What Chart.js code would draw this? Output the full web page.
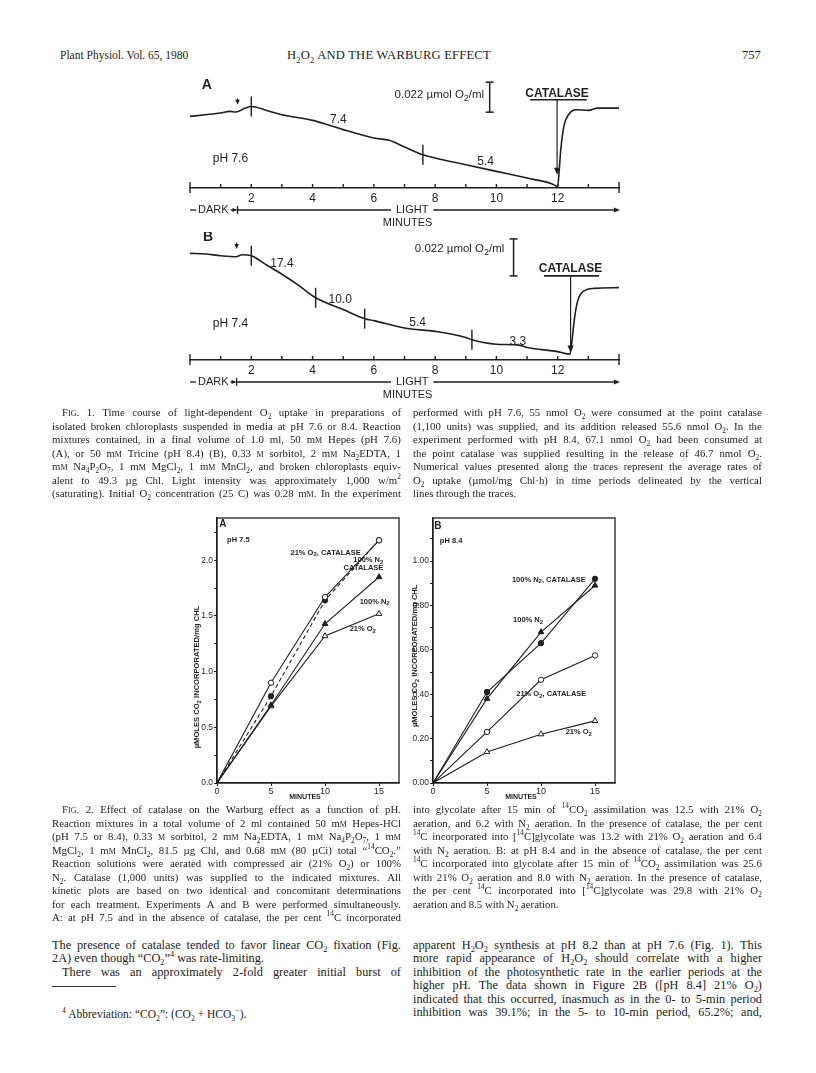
<!DOCTYPE html>
<html>
<head>
<meta charset="utf-8">
<title>H2O2 and the Warburg effect</title>
<script src="https://cdn.jsdelivr.net/npm/chart.js@4.4.1/dist/chart.umd.min.js"></script>
<style>
  body { margin: 0; background: #fff; }
  #page { position: relative; width: 816px; height: 1073px; overflow: hidden; background: #fff; color: #1c1c1c;
          font-family: "Liberation Serif", "DejaVu Serif", serif; }
  canvas { position: absolute; }
  .txt { position: absolute; white-space: nowrap; }
  .col { position: absolute; }
  .col > div { white-space: nowrap; }
  .just { display: flex; justify-content: space-between; }
  .just span { white-space: nowrap; }
  k { font-variant: small-caps; }
  sub, sup { font-size: 0.68em; line-height: 0; }
</style>
</head>
<body>
<div id="page">
  <div class="txt" style="left:60px;top:49px;font-size:11.5px">Plant Physiol. Vol. 65, 1980</div>
  <div class="txt" style="left:287px;top:48px;font-size:12.6px;letter-spacing:0.2px">H<sub>2</sub>O<sub>2</sub> AND THE WARBURG EFFECT</div>
  <div class="txt" style="left:742px;top:48px;font-size:12.6px">757</div>

  <canvas id="fig1a" width="520" height="162" style="left:150px;top:70px"></canvas>
  <canvas id="fig1b" width="520" height="175" style="left:150px;top:232px"></canvas>
  <canvas id="fig2a" width="240" height="305" style="left:170px;top:505px"></canvas>
  <canvas id="fig2b" width="240" height="305" style="left:386px;top:505px"></canvas>

  <div style="position:absolute;left:52px;top:986px;width:64px;border-top:1px solid #333"></div>
</div>

<script>
// ---------- Fig. 1: O2 traces (relative O2 level, umol O2/ml above the baseline) ----------
const minutesA = [0, 0.5, 1, 1.3, 1.5, 1.8, 2, 2.5, 3, 4, 4.5, 5, 6, 6.5, 7, 7.6, 8, 9, 10, 11, 11.8, 12,
                  12.05, 12.1, 12.2, 12.35, 12.6, 13, 13.3, 14];
const o2A = [0.0525, 0.0537, 0.0550, 0.0562, 0.0557, 0.0586, 0.0598, 0.0569, 0.0537, 0.0496, 0.0464, 0.0428,
             0.0367, 0.0350, 0.0301, 0.0244, 0.0220, 0.0171, 0.0122, 0.0073, 0.0032, 0.0012,
             0.0134, 0.0281, 0.0452, 0.0537, 0.0574, 0.0569, 0.0586, 0.0586];
const marksA = [2, 7.6];
const ratesA = ['7.4', '5.4'];

const minutesB = [0, 0.5, 1, 1.5, 1.7, 2, 2.5, 3, 3.5, 4.1, 5, 5.7, 6, 7, 8, 9, 9.2, 10, 10.7, 11, 12, 12.4,
                  12.45, 12.55, 12.65, 12.85, 13.2, 14];
const o2B = [0.0634, 0.0630, 0.0620, 0.0614, 0.0626, 0.0620, 0.0565, 0.0510, 0.0450, 0.0370, 0.0300, 0.0246,
             0.0234, 0.0190, 0.0170, 0.0134, 0.0120, 0.0094, 0.0090, 0.0074, 0.0050, 0.0034,
             0.0090, 0.0250, 0.0350, 0.0410, 0.0426, 0.0430];
const marksB = [2, 4.1, 5.7, 9.2];
const ratesB = ['17.4', '10.0', '5.4', '3.3'];

const traceTicks = [0, 1, 2, 3, 4, 5, 6, 7, 8, 9, 10, 11, 12, 13, 14];
const traceTickLabels = ['', '', '2', '', '4', '', '6', '', '8', '', '10', '', '12', '', ''];

// ---------- Fig. 2: umoles CO2 incorporated / mg Chl ----------
const minutes2 = [0, 5, 10, 15];
const aO2Catalase = [0, 0.90, 1.67, 2.18];
const aN2Catalase = [0, 0.78, 1.64, 2.18];
const aN2 = [0, 0.70, 1.43, 1.85];
const aO2 = [0, 0.69, 1.32, 1.52];

const bO2Catalase = [0, 0.23, 0.465, 0.575];
const bN2Catalase = [0, 0.41, 0.63, 0.92];
const bN2 = [0, 0.38, 0.68, 0.89];
const bO2 = [0, 0.14, 0.22, 0.28];

const xTicks2 = [0, 5, 10, 15];
const yTicksA = [0, 0.25, 0.5, 0.75, 1, 1.25, 1.5, 1.75, 2, 2.25];
const yLabelsA = ['0.0', '', '0.5', '', '1.0', '', '1.5', '', '2.0', ''];
const yTicksB = [0, 0.1, 0.2, 0.3, 0.4, 0.5, 0.6, 0.7, 0.8, 0.9, 1.0, 1.1];
const yLabelsB = ['0.00', '', '0.20', '', '0.40', '', '0.60', '', '0.80', '', '1.00', ''];

const INK = '#1f1f1f';
const SANS = '"Liberation Sans", "DejaVu Sans", sans-serif';
Chart.defaults.color = INK;

function seg(ctx, x1, y1, x2, y2) {
  ctx.beginPath(); ctx.moveTo(x1, y1); ctx.lineTo(x2, y2); ctx.stroke();
}
function head(ctx, x, y, dir, s) {
  ctx.beginPath();
  if (dir === 'down') { ctx.moveTo(x, y); ctx.lineTo(x - s * 0.45, y - s); ctx.lineTo(x + s * 0.45, y - s); }
  else { ctx.moveTo(x, y); ctx.lineTo(x - s, y - s * 0.4); ctx.lineTo(x - s, y + s * 0.4); }
  ctx.closePath(); ctx.fill();
}
// text with subscripts: parts = [[text, isSub], ...]
function subText(ctx, parts, x, y, align, size, weight) {
  const main = `${weight} ${size}px ${SANS}`, small = `${weight} ${Math.round(size * 0.75)}px ${SANS}`;
  let w = 0;
  parts.forEach(([s, sub]) => { ctx.font = sub ? small : main; w += ctx.measureText(s).width; });
  let cx = align === 'right' ? x - w : align === 'center' ? x - w / 2 : x;
  ctx.textAlign = 'left'; ctx.textBaseline = 'middle';
  parts.forEach(([s, sub]) => {
    ctx.font = sub ? small : main;
    ctx.fillText(s, cx, sub ? y + size * 0.3 : y);
    cx += ctx.measureText(s).width;
  });
}

function traceNotes(n) {
  return {
    id: 'traceNotes',
    afterDraw(chart) {
      const { ctx, chartArea: a } = chart;
      const xs = chart.scales.x, ys = chart.scales.y;
      const X = t => xs.getPixelForValue(t), Y = v => ys.getPixelForValue(v);
      const pts = chart.data.datasets[0].data;
      const level = t => {
        for (let i = 1; i < pts.length; i++) {
          if (pts[i].x >= t) {
            const p = pts[i - 1], q = pts[i];
            return p.y + (q.y - p.y) * (t - p.x) / (q.x - p.x);
          }
        }
        return pts[pts.length - 1].y;
      };
      ctx.save();
      ctx.strokeStyle = INK; ctx.fillStyle = INK; ctx.lineWidth = 1.4;

      // minute ticks on the time axis
      xs.ticks.forEach(tk => {
        const end = tk.value === xs.min || tk.value === xs.max;
        seg(ctx, X(tk.value), a.bottom - (end ? 6 : 4), X(tk.value), a.bottom + (end ? 5 : 0));
      });
      // vertical lines delimiting the rate periods
      n.marks.forEach(t => { const py = Y(level(t)); seg(ctx, X(t), py - 10, X(t), py + 10); });

      ctx.textAlign = 'center'; ctx.textBaseline = 'middle';
      ctx.font = `12px ${SANS}`;
      n.rates.forEach((r, i) => ctx.fillText(r, X(n.ratePos[i][0]), Y(n.ratePos[i][1])));
      ctx.fillText(n.ph[2], X(n.ph[0]), Y(n.ph[1]));
      ctx.font = `bold 14px ${SANS}`;
      ctx.fillText(n.letter[2], X(n.letter[0]), Y(n.letter[1]));

      // light-on arrow
      ctx.lineWidth = 1.2;
      seg(ctx, X(n.lightOn), Y(n.onArrow[0]), X(n.lightOn), Y(n.onArrow[1]) - 3);
      head(ctx, X(n.lightOn), Y(n.onArrow[1]), 'down', 5);

      // 0.022 umol O2/ml scale bar
      ctx.lineWidth = 1.5;
      const bx = X(n.bar[0]);
      seg(ctx, bx, Y(n.bar[1]), bx, Y(n.bar[2]));
      seg(ctx, bx - 4, Y(n.bar[1]), bx + 4, Y(n.bar[1]));
      seg(ctx, bx - 4, Y(n.bar[2]), bx + 4, Y(n.bar[2]));
      subText(ctx, [['0.022 \u00b5mol O', 0], ['2', 1], ['/ml', 0]], X(n.barLabel[0]), Y(n.barLabel[1]), 'right', 11.5, 'normal');

      // catalase addition
      const c = n.catalase;
      ctx.font = `600 12px ${SANS}`; ctx.textAlign = 'center';
      ctx.fillText('CATALASE', X(c.t), Y(c.v));
      ctx.lineWidth = 1.6;
      seg(ctx, X(c.from), Y(c.lineV), X(c.to), Y(c.lineV));
      ctx.lineWidth = 1.2;
      seg(ctx, X(c.t), Y(c.lineV), X(c.t), Y(c.arrowTo) - 4);
      head(ctx, X(c.t), Y(c.arrowTo), 'down', 7);

      // DARK / LIGHT bar and axis title
      const rowY = a.bottom + 22, x0 = X(0), xb = X(n.lightOn), xe = X(14);
      ctx.lineWidth = 1.3;
      ctx.font = `11px ${SANS}`; ctx.textAlign = 'left';
      seg(ctx, x0, rowY, x0 + 6, rowY);
      ctx.fillText('DARK', x0 + 8, rowY);
      const dEnd = x0 + 8 + ctx.measureText('DARK').width + 2;
      seg(ctx, dEnd, rowY, xb - 2, rowY);
      head(ctx, xb, rowY, 'right', 5);
      seg(ctx, xb, rowY - 4, xb, rowY + 4);
      const lx = X(n.lightT);
      ctx.textAlign = 'center';
      ctx.fillText('LIGHT', lx, rowY);
      const lw = ctx.measureText('LIGHT').width / 2 + 5;
      seg(ctx, xb, rowY, lx - lw, rowY);
      seg(ctx, lx + lw, rowY, xe - 3, rowY);
      head(ctx, xe + 1, rowY, 'right', 6);
      ctx.font = `11px ${SANS}`;
      ctx.fillText('MINUTES', X(n.minutesT), a.bottom + 35);
      ctx.restore();
    }
  };
}

function traceChart(id, minutes, o2, yMax, axisHeight, notes) {
  return new Chart(document.getElementById(id), {
    type: 'line',
    data: {
      datasets: [{
        data: minutes.map((m, i) => ({ x: m, y: o2[i] })),
        borderColor: INK, borderWidth: 1.6, pointRadius: 0, fill: false,
        cubicInterpolationMode: 'monotone'
      }]
    },
    options: {
      responsive: false, animation: false, events: [],
      layout: { padding: { left: 40, right: 51, top: 0, bottom: 0 } },
      plugins: { legend: { display: false }, tooltip: { enabled: false } },
      scales: {
        x: {
          type: 'linear', min: 0, max: 14,
          afterFit: s => { s.height = axisHeight; },
          afterBuildTicks: s => { s.ticks = traceTicks.map(v => ({ value: v })); },
          ticks: { autoSkip: false, maxRotation: 0, padding: 3, color: INK, font: { size: 12, family: SANS },
                   callback: (v, i) => traceTickLabels[i] },
          grid: { display: false, drawTicks: false, tickLength: 0 },
          border: { display: true, color: INK, width: 1.5 }
        },
        y: { display: false, min: 0, max: yMax }
      }
    },
    plugins: [traceNotes(notes)]
  });
}

traceChart('fig1a', minutesA, o2A, 0.08653, 44, {
  marks: marksA, rates: ratesA, ratePos: [[4.84, 0.050], [9.65, 0.0195]],
  ph: [1.32, 0.0212, 'pH 7.6'], letter: [0.55, 0.0757, 'A'],
  lightOn: 1.55, onArrow: [0.0656, 0.0610],
  bar: [9.78, 0.0556, 0.0776], barLabel: [9.6, 0.0683],
  catalase: { t: 11.98, v: 0.0695, lineV: 0.0647, from: 11.1, to: 12.95, arrowTo: 0.0098 },
  lightT: 7.25, minutesT: 7.1
});
traceChart('fig1b', minutesB, o2B, 0.0761, 47, {
  marks: marksB, rates: ratesB, ratePos: [[3.0, 0.057], [4.9, 0.036], [7.43, 0.022], [10.7, 0.011]],
  ph: [1.32, 0.0214, 'pH 7.4'], letter: [0.59, 0.073, 'B'],
  lightOn: 1.52, onArrow: [0.0698, 0.0660],
  bar: [10.56, 0.050, 0.072], barLabel: [10.26, 0.066],
  catalase: { t: 12.42, v: 0.054, lineV: 0.050, from: 11.55, to: 13.35, arrowTo: 0.0045 },
  lightT: 7.25, minutesT: 7.1
});

// ---------- Fig. 2 ----------
function series(values, style, filled, dashed) {
  return {
    data: minutes2.map((m, i) => ({ x: m, y: values[i] })),
    borderColor: INK, borderWidth: 1.1, borderDash: dashed ? [4, 3] : [],
    pointStyle: style,
    pointRadius: values.map((v, i) => (i === 0 ? 0 : style === 'triangle' ? 3.3 : 2.7)),
    pointBackgroundColor: filled ? INK : '#fff', pointBorderColor: INK, pointBorderWidth: 1,
    tension: 0, fill: false
  };
}

function panelNotes(n) {
  return {
    id: 'panelNotes',
    afterDraw(chart) {
      const { ctx, chartArea: a } = chart;
      const X = t => chart.scales.x.getPixelForValue(t), Y = v => chart.scales.y.getPixelForValue(v);
      ctx.save();
      ctx.strokeStyle = INK; ctx.fillStyle = INK; ctx.lineWidth = 1.3;
      ctx.strokeRect(a.left, a.top, a.right - a.left, a.bottom - a.top);
      ctx.textAlign = 'center'; ctx.textBaseline = 'middle';
      ctx.font = `bold 10px ${SANS}`;
      ctx.fillText(n.letter[2], X(n.letter[0]), Y(n.letter[1]));
      subText(ctx, [[n.ph[2], 0]], X(n.ph[0]), Y(n.ph[1]), 'left', 7.5, 'bold');
      n.labels.forEach(l => subText(ctx, l.parts, X(l.t), Y(l.v), l.align, 7.5, 'bold'));
      ctx.font = `bold 7px ${SANS}`; ctx.textAlign = 'center';
      ctx.fillText('MINUTES', (a.left + a.right) / 2 - 3, a.bottom + 14);
      ctx.save();
      ctx.translate(a.left - n.titleDx, a.top + (a.bottom - a.top) * n.titleAt);
      ctx.rotate(-Math.PI / 2);
      subText(ctx, [['\u00b5MOLES CO', 0], ['2', 1], [' INCORPORATED/mg CHL', 0]], 0, 0, 'center', 7.6, 'bold');
      ctx.restore();
      ctx.restore();
    }
  };
}

function uptakeChart(id, datasets, yMax, yTicks, yLabels, notes) {
  return new Chart(document.getElementById(id), {
    type: 'line',
    data: { datasets },
    options: {
      responsive: false, animation: false, events: [],
      layout: { padding: { left: 0, right: 11, top: 13, bottom: 0 } },
      plugins: { legend: { display: false }, tooltip: { enabled: false } },
      scales: {
        x: {
          type: 'linear', min: 0, max: 16.85,
          afterFit: s => { s.height = 27; },
          afterBuildTicks: s => { s.ticks = xTicks2.map(v => ({ value: v })); },
          ticks: { autoSkip: false, maxRotation: 0, padding: 0, color: INK,
                   font: { size: 9, family: SANS }, callback: v => String(v) },
          grid: { drawOnChartArea: false, tickLength: 3, color: INK, lineWidth: 1 },
          border: { color: INK, width: 1.3 }
        },
        y: {
          min: 0, max: yMax,
          afterFit: s => { s.width = 47; },
          afterBuildTicks: s => { s.ticks = yTicks.map(v => ({ value: v })); },
          ticks: { autoSkip: false, padding: 1, color: INK, font: { size: 8.5, family: SANS },
                   callback: (v, i) => yLabels[i] },
          grid: { drawOnChartArea: false, tickLength: 3, color: INK, lineWidth: 1 },
          border: { color: INK, width: 1.3 }
        }
      }
    },
    plugins: [panelNotes(notes)]
  });
}

uptakeChart('fig2a', [
  series(aO2Catalase, 'circle', false, false),
  series(aN2Catalase, 'circle', true, true),
  series(aN2, 'triangle', true, false),
  series(aO2, 'triangle', false, false)
], 2.38, yTicksA, yLabelsA, {
  letter: [0.55, 2.32, 'A'], ph: [0.93, 2.18, 'pH 7.5'], titleDx: 20, titleAt: 0.6,
  labels: [
    { t: 13.3, v: 2.07, align: 'right', parts: [['21% O', 0], ['2', 1], [', CATALASE', 0]] },
    { t: 15.4, v: 2.0, align: 'right', parts: [['100% N', 0], ['2', 1]] },
    { t: 15.4, v: 1.93, align: 'right', parts: [['CATALASE', 0]] },
    { t: 14.6, v: 1.63, align: 'center', parts: [['100% N', 0], ['2', 1]] },
    { t: 13.5, v: 1.38, align: 'center', parts: [['21% O', 0], ['2', 1]] }
  ]
});

uptakeChart('fig2b', [
  series(bO2Catalase, 'circle', false, false),
  series(bN2Catalase, 'circle', true, false),
  series(bN2, 'triangle', true, false),
  series(bO2, 'triangle', false, false)
], 1.194, yTicksB, yLabelsB, {
  letter: [0.45, 1.156, 'B'], ph: [0.63, 1.09, 'pH 8.4'], titleDx: 18, titleAt: 0.52,
  labels: [
    { t: 14.15, v: 0.917, align: 'right', parts: [['100% N', 0], ['2', 1], [', CATALASE', 0]] },
    { t: 8.8, v: 0.736, align: 'center', parts: [['100% N', 0], ['2', 1]] },
    { t: 14.2, v: 0.40, align: 'right', parts: [['21% O', 0], ['2', 1], [', CATALASE', 0]] },
    { t: 13.5, v: 0.23, align: 'center', parts: [['21% O', 0], ['2', 1]] }
  ]
});

// ---------- page text ----------
// '>' at the start = indented first line, '|' at the end = last line of a paragraph (not justified)
function typeset(x, y, width, size, lead, lines) {
  const box = document.createElement('div');
  box.className = 'col';
  box.style.cssText = `left:${x}px;top:${y}px;width:${width}px;font-size:${size}px;line-height:${lead}px`;
  lines.forEach(src => {
    let s = src, indent = 0, last = false;
    if (s.startsWith('>')) { indent = 10; s = s.slice(1); }
    if (s.endsWith('|')) { last = true; s = s.slice(0, -1); }
    const row = document.createElement('div');
    row.style.paddingLeft = indent + 'px';
    row.style.height = lead + 'px';
    if (last) row.innerHTML = s;
    else {
      row.className = 'just';
      row.innerHTML = s.split(' ').map(w => '<span>' + w + '</span>').join('');
    }
    box.appendChild(row);
  });
  document.getElementById('page').appendChild(box);
  box.querySelectorAll('.just').forEach(row => {
    const spans = [...row.children];
    let total = 0;
    spans.forEach(sp => { total += sp.getBoundingClientRect().width; });
    const avail = width - parseFloat(row.style.paddingLeft) - 2.3 * (spans.length - 1);
    if (total > avail) row.style.letterSpacing = ((avail - total) / row.textContent.length).toFixed(3) + 'px';
  });
}

const LEFT = 52, RIGHT = 413, COLW = 349;

typeset(LEFT, 406, COLW, 10.8, 13.5, [
  '>F<k>ig</k>. 1. Time course of light-dependent O<sub>2</sub> uptake in preparations of',
  'isolated broken chloroplasts suspended in media at pH 7.6 or 8.4. Reaction',
  'mixtures contained, in a final volume of 1.0 ml, 50 m<k>m</k> Hepes (pH 7.6)',
  '(A), or 50 m<k>m</k> Tricine (pH 8.4) (B), 0.33 <k>m</k> sorbitol, 2 m<k>m</k> Na<sub>2</sub>EDTA, 1',
  'm<k>m</k> Na<sub>4</sub>P<sub>2</sub>O<sub>7</sub>, 1 m<k>m</k> MgCl<sub>2</sub>, 1 m<k>m</k> MnCl<sub>2</sub>, and broken chloroplasts equiv-',
  'alent to 49.3 \u00b5g Chl. Light intensity was approximately 1,000 w/m<sup>2</sup>',
  '(saturating). Initial O<sub>2</sub> concentration (25 C) was 0.28 m<k>m</k>. In the experiment'
]);
typeset(RIGHT, 406, COLW, 10.8, 13.5, [
  'performed with pH 7.6, 55 nmol O<sub>2</sub> were consumed at the point catalase',
  '(1,100 units) was supplied, and its addition released 55.6 nmol O<sub>2</sub>. In the',
  'experiment performed with pH 8.4, 67.1 nmol O<sub>2</sub> had been consumed at',
  'the point catalase was supplied resulting in the release of 46.7 nmol O<sub>2</sub>.',
  'Numerical values presented along the traces represent the average rates of',
  'O<sub>2</sub> uptake (\u00b5mol/mg Chl\u00b7h) in time periods delineated by the vertical',
  'lines through the traces.|'
]);

typeset(LEFT, 803, COLW, 10.8, 13.5, [
  '>F<k>ig</k>. 2. Effect of catalase on the Warburg effect as a function of pH.',
  'Reaction mixtures in a total volume of 2 ml contained 50 m<k>m</k> Hepes-HCl',
  '(pH 7.5 or 8.4), 0.33 <k>m</k> sorbitol, 2 m<k>m</k> Na<sub>2</sub>EDTA, 1 m<k>m</k> Na<sub>4</sub>P<sub>2</sub>O<sub>7</sub>, 1 m<k>m</k>',
  'MgCl<sub>2</sub>, 1 m<k>m</k> MnCl<sub>2</sub>, 81.5 \u00b5g Chl, and 0.68 m<k>m</k> (80 \u00b5Ci) total \u201c<sup>14</sup>CO<sub>2</sub>.\u201d',
  'Reaction solutions were aerated with compressed air (21% O<sub>2</sub>) or 100%',
  'N<sub>2</sub>. Catalase (1,000 units) was supplied to the indicated mixtures. All',
  'kinetic plots are based on two identical and concomitant determinations',
  'for each treatment. Experiments A and B were performed simultaneously.',
  'A: at pH 7.5 and in the absence of catalase, the per cent <sup>14</sup>C incorporated'
]);
typeset(RIGHT, 803, COLW, 10.8, 13.5, [
  'into glycolate after 15 min of <sup>14</sup>CO<sub>2</sub> assimilation was 12.5 with 21% O<sub>2</sub>',
  'aeration, and 6.2 with N<sub>2</sub> aeration. In the presence of catalase, the per cent',
  '<sup>14</sup>C incorporated into [<sup>14</sup>C]glycolate was 13.2 with 21% O<sub>2</sub> aeration and 6.4',
  'with N<sub>2</sub> aeration. B: at pH 8.4 and in the absence of catalase, the per cent',
  '<sup>14</sup>C incorporated into glycolate after 15 min of <sup>14</sup>CO<sub>2</sub> assimilation was 25.6',
  'with 21% O<sub>2</sub> aeration and 8.0 with N<sub>2</sub> aeration. In the presence of catalase,',
  'the per cent <sup>14</sup>C incorporated into [<sup>14</sup>C]glycolate was 29.8 with 21% O<sub>2</sub>',
  'aeration and 8.5 with N<sub>2</sub> aeration.|'
]);

typeset(LEFT, 939, COLW, 12.3, 13.4, [
  'The presence of catalase tended to favor linear CO<sub>2</sub> fixation (Fig.',
  '2A) even though \u201cCO<sub>2</sub>\u201d<sup>4</sup> was rate-limiting.|',
  '>There was an approximately 2-fold greater initial burst of'
]);
typeset(RIGHT, 939, COLW, 12.3, 13.4, [
  'apparent H<sub>2</sub>O<sub>2</sub> synthesis at pH 8.2 than at pH 7.6 (Fig. 1). This',
  'more rapid appearance of H<sub>2</sub>O<sub>2</sub> should correlate with a higher',
  'inhibition of the photosynthetic rate in the earlier periods at the',
  'higher pH. The data shown in Figure 2B ([pH 8.4] 21% O<sub>2</sub>)',
  'indicated that this occurred, inasmuch as in the 0- to 5-min period',
  'inhibition was 39.1%; in the 5- to 10-min period, 65.2%; and,'
]);
typeset(62, 1007, 300, 11.5, 14, [
  '<sup>4</sup> Abbreviation: \u201cCO<sub>2</sub>\u201d: (CO<sub>2</sub> + HCO<sub>3</sub><sup>\u2212</sup>).|'
]);
</script>
</body>
</html>
